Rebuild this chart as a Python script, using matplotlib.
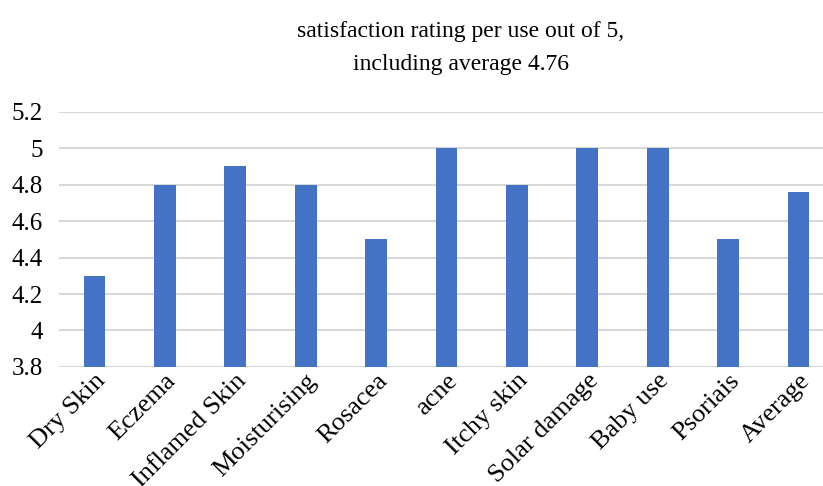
import matplotlib
matplotlib.use("Agg")
import matplotlib.pyplot as plt

categories = ["Dry Skin", "Eczema", "Inflamed Skin", "Moisturising", "Rosacea",
              "acne", "Itchy skin", "Solar damage", "Baby use", "Psoriais", "Average"]
ratings = [4.3, 4.8, 4.9, 4.8, 4.5, 5.0, 4.8, 5.0, 5.0, 4.5, 4.76]
yticks = [3.8, 4, 4.2, 4.4, 4.6, 4.8, 5, 5.2]
ytick_labels = ["3.8", "4", "4.2", "4.4", "4.6", "4.8", "5", "5.2"]

plt.rcParams["font.family"] = ["Liberation Serif", "DejaVu Serif"]

fig = plt.figure(figsize=(8.23, 4.86), dpi=100)
ax = fig.add_axes([0.072, 0.245, 0.941, 0.525])

x = list(range(len(categories)))
ax.bar(x, ratings, width=0.31, color="#4472C4", zorder=3)

ax.set_ylim(3.8, 5.2)
ax.set_xlim(-0.5, len(categories) - 0.5)
ax.set_yticks(yticks)
ax.set_yticklabels(ytick_labels, fontsize=18)
ax.set_xticks(x)
ax.set_xticklabels(categories, fontsize=19, rotation=45, ha="right",
                   rotation_mode="anchor")
ax.tick_params(axis="x", length=0, pad=2)
ax.tick_params(axis="y", length=0, pad=12)
ax.grid(axis="y", color="#d9d9d9", linewidth=1.5, zorder=0)
for s in ax.spines.values():
    s.set_visible(False)

fig.text(0.56, 0.901, "satisfaction rating per use out of 5,\nincluding average 4.76",
         ha="center", va="center", fontsize=17, linespacing=1.75)

fig.savefig("out.png", dpi=100)
